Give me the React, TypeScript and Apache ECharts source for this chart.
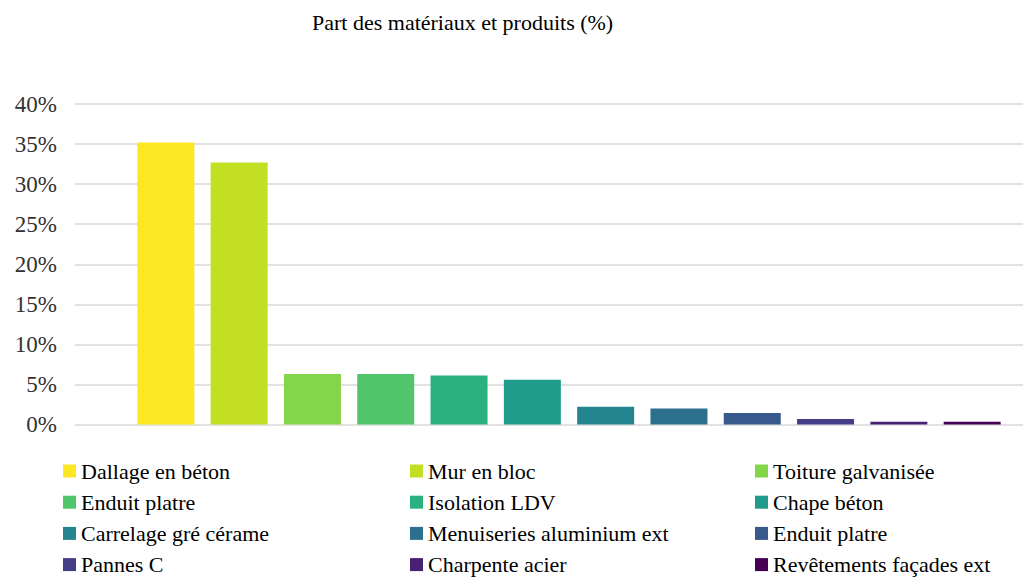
import React, { useEffect, useRef } from "react";
import * as echarts from "echarts";

const TITLE = "Part des matériaux et produits (%)";
const NAMES = [
  "Dallage en béton",
  "Mur en bloc",
  "Toiture galvanisée",
  "Enduit platre",
  "Isolation LDV",
  "Chape béton",
  "Carrelage gré cérame",
  "Menuiseries aluminium ext",
  "Enduit platre",
  "Pannes C",
  "Charpente acier",
  "Revêtements façades ext",
];
const VALUES = [35.2, 32.7, 6.3, 6.3, 6.1, 5.6, 2.2, 2.0, 1.45, 0.7, 0.35, 0.35];
const COLORS = [
  "#FDE725", "#C2DF23", "#85D54A", "#51C56A", "#2BB07F", "#1E9B8A",
  "#25858E", "#2D708E", "#38598C", "#433E85", "#482173", "#440154",
];
const Y_TICKS = [0, 5, 10, 15, 20, 25, 30, 35, 40];

const FONT = "Liberation Serif";
const CHART_W = 1063;

export default function App() {
  const ref = useRef<HTMLDivElement>(null);
  useEffect(() => {
    if (!ref.current) return;
    const chart = echarts.init(ref.current, undefined, { renderer: "svg" });
    let alive = true;

    const render = () => {
      chart.clear();
      chart.setOption({
        animation: false,
        backgroundColor: "#fff",
        textStyle: { fontFamily: FONT },
        grid: { left: 75, right: 0, top: 104, bottom: 154.5, containLabel: false },
        xAxis: {
          type: "category",
          data: ["Part"],
          axisLine: { show: false },
          axisTick: { show: false },
          axisLabel: { show: false },
        },
        yAxis: {
          type: "value",
          min: Y_TICKS[0],
          max: Y_TICKS[Y_TICKS.length - 1],
          interval: Y_TICKS[1] - Y_TICKS[0],
          axisLine: { show: false },
          axisTick: { show: false },
          axisLabel: { show: false },
          splitLine: { lineStyle: { color: "#d9d9d9", width: 1.5 } },
        },
        series: NAMES.map((n, i) => ({
          type: "bar",
          name: `${n}#${i}`,
          data: [VALUES[i]],
          barWidth: 57,
          barGap: "28.6%",
          itemStyle: { color: COLORS[i] },
        })),
      });

      const graphics: any[] = [];
      graphics.push({
        type: "text",
        left: 312,
        top: 11,
        style: { text: TITLE, fontFamily: FONT, fontSize: 22, fill: "#000" },
      });
      Y_TICKS.forEach((v) => {
        const y = chart.convertToPixel({ yAxisIndex: 0 }, v) as number;
        graphics.push({
          type: "text",
          right: CHART_W - 57,
          top: y - 11.5,
          style: { text: `${v}%`, fontFamily: FONT, fontSize: 23, fill: "#333" },
        });
      });
      const colX = [63, 410, 755];
      NAMES.forEach((n, i) => {
        const col = i % 3;
        const row = Math.floor(i / 3);
        const cy = 471 + row * 31.2;
        graphics.push({
          type: "rect",
          shape: { x: colX[col], y: cy - 6.5, width: 13, height: 13 },
          style: { fill: COLORS[i] },
        });
        graphics.push({
          type: "text",
          left: colX[col] + 18,
          top: cy - 11,
          style: { text: n, fontFamily: FONT, fontSize: 22, fill: "#000" },
        });
      });
      chart.setOption({ graphic: graphics });
    };

    render();
    const fonts = (document as any).fonts;
    if (fonts && fonts.load) {
      Promise.all([fonts.load(`22px "${FONT}"`), fonts.ready])
        .then(() => {
          if (alive) render();
        })
        .catch(() => {});
    }
    return () => {
      alive = false;
      chart.dispose();
    };
  }, []);
  return (
    <div
      style={{
        position: "absolute",
        left: 0,
        top: 0,
        width: 1023,
        height: 579,
        overflow: "hidden",
        background: "#fff",
        fontFamily: FONT,
      }}
    >
      <div
        style={{
          position: "absolute",
          left: 0,
          top: 0,
          fontFamily: FONT,
          fontSize: 22,
          color: "#fff",
        }}
      >
        {TITLE}
      </div>
      <div ref={ref} style={{ position: "relative", width: CHART_W, height: 579 }} />
    </div>
  );
}
